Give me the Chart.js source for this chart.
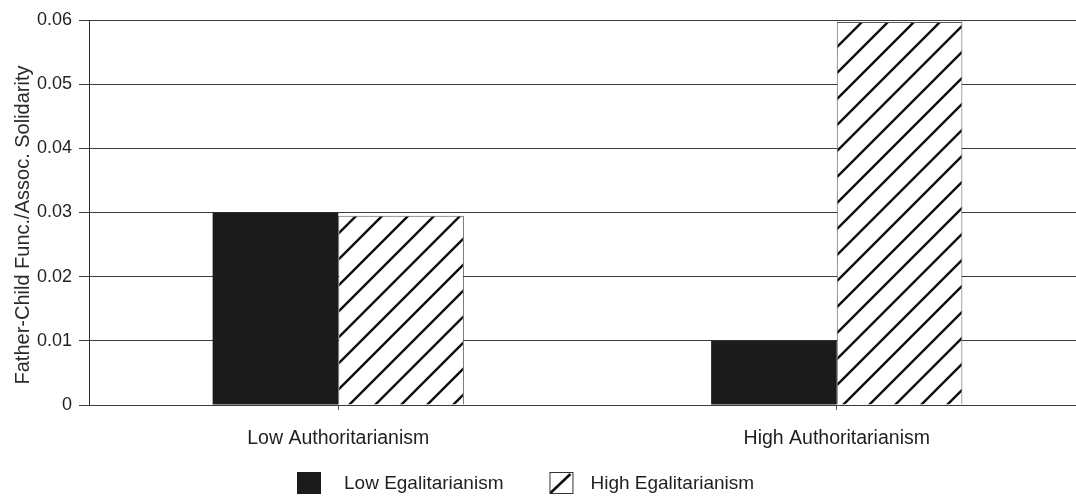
<!DOCTYPE html>
<html>
<head>
<meta charset="utf-8">
<title>Father-Child Functional/Associational Solidarity</title>
<script src="https://cdn.jsdelivr.net/npm/chart.js@4/dist/chart.umd.min.js"></script>
<style>
  html, body { margin: 0; padding: 0; background: #ffffff; overflow: hidden; }
  #wrap { width: 1076px; height: 497px; overflow: hidden; }
  canvas { display: block; }
</style>
</head>
<body>
<div id="wrap"><canvas id="chart" width="1086" height="497" style="width:1086px;height:497px"></canvas></div>
<script>
// Categories and series
const categories = ['Low Authoritarianism', 'High Authoritarianism'];
const seriesNames = ['Low Egalitarianism', 'High Egalitarianism'];
const lowEgalitarianism = [0.0300, 0.0100];
const highEgalitarianism = [0.0295, 0.0597];
const yTicks = [0, 0.01, 0.02, 0.03, 0.04, 0.05, 0.06];
const yAxisTitle = 'Father-Child Func./Assoc. Solidarity';

const FONT = '"Liberation Sans", Arial, Helvetica, sans-serif';
const TEXT = '#1f1f1f';

// Diagonal "/" hatching on white (square tile, 45 degrees, seamless)
function makeHatch(size, lineWidth) {
  const c = document.createElement('canvas');
  c.width = size; c.height = size;
  const g = c.getContext('2d');
  g.fillStyle = '#ffffff';
  g.fillRect(0, 0, size, size);
  g.strokeStyle = '#0d0d0d';
  g.lineWidth = lineWidth;
  g.lineCap = 'square';
  g.beginPath();
  g.moveTo(0, size); g.lineTo(size, 0);
  g.moveTo(-size / 2, size / 2); g.lineTo(size / 2, -size / 2);
  g.moveTo(size / 2, size * 1.5); g.lineTo(size * 1.5, size / 2);
  g.stroke();
  return c;
}

const ctx = document.getElementById('chart').getContext('2d');
const hatch = ctx.createPattern(makeHatch(26, 2.4), 'repeat');

// Rotated axis title and the legend under the plot
const annotationsPlugin = {
  id: 'figureText',
  afterDraw(chart, args, opts) {
    const c = chart.ctx;
    c.save();
    // axis title
    c.font = opts.titleFont;
    c.fillStyle = '#2a2a2a';
    c.textAlign = 'center';
    c.textBaseline = 'middle';
    c.translate(opts.titleX, opts.titleY);
    c.rotate(-Math.PI / 2);
    c.fillText(yAxisTitle, 0, 0);
    c.restore();

    // legend
    c.save();
    const y = opts.legendY;
    let x = opts.legendX;
    c.font = opts.legendFont;
    c.textBaseline = 'middle';
    c.textAlign = 'left';
    chart.data.datasets.forEach((ds, i) => {
      const bw = 24, bh = 22;
      const top = y - bh / 2;
      if (i === 0) {
        c.fillStyle = '#1b1b1b';
        c.fillRect(x, top, bw, bh);
      } else {
        c.strokeStyle = '#333333';
        c.lineWidth = 1;
        c.strokeRect(x + 0.5, top + 0.5, bw - 1, bh - 1);
        c.lineWidth = 2.6;
        c.strokeStyle = '#111111';
        c.beginPath();
        c.moveTo(x + 1, top + bh - 1);
        c.lineTo(x + bw - 3, top + 2);
        c.stroke();
      }
      const gap = opts.textGaps[i];
      c.fillStyle = TEXT;
      c.fillText(ds.label, x + bw + gap, y + 1);
      x += bw + gap + c.measureText(ds.label).width + opts.itemGap;
    });
    c.restore();
  }
};

new Chart(ctx, {
  type: 'bar',
  data: {
    labels: categories,
    datasets: [
      {
        label: seriesNames[0],
        data: lowEgalitarianism,
        backgroundColor: '#1b1b1b',
        borderWidth: 0
      },
      {
        label: seriesNames[1],
        data: highEgalitarianism,
        backgroundColor: hatch,
        borderColor: '#555555',
        borderWidth: 1,
        borderSkipped: 'bottom'
      }
    ]
  },
  options: {
    responsive: false,
    animation: false,
    events: [],
    layout: { padding: { left: 0, top: 20, right: 0, bottom: 0 } },
    datasets: {
      bar: { categoryPercentage: 0.504, barPercentage: 1.0 }
    },
    plugins: {
      legend: { display: false },
      tooltip: { enabled: false },
      figureText: {
        titleFont: '20px ' + FONT,
        titleX: 23,
        titleY: 225,
        legendFont: '19px ' + FONT,
        legendX: 297,
        legendY: 483,
        textGaps: [23, 17],
        itemGap: 46
      }
    },
    scales: {
      x: {
        offset: true,
        grid: {
          offset: false,
          drawOnChartArea: false,
          drawTicks: true,
          tickLength: 5,
          color: '#555555'
        },
        border: { display: true, color: '#3a3a3a' },
        ticks: {
          color: TEXT,
          padding: 17,
          maxRotation: 0,
          font: { family: FONT, size: 19.5 }
        },
        afterFit(scale) { scale.height = 92; }
      },
      y: {
        min: 0,
        max: 0.06,
        afterBuildTicks(scale) {
          scale.ticks = yTicks.map(v => ({ value: v }));
        },
        grid: {
          color: '#3c3c3c',
          lineWidth: 1,
          tickLength: 10,
          drawTicks: true
        },
        border: { display: true, color: '#2e2e2e', width: 1 },
        ticks: {
          color: TEXT,
          padding: 7,
          font: { family: FONT, size: 18 },
          callback: v => (v === 0 ? '0' : Number(v).toFixed(2))
        },
        title: { display: false },
        afterFit(scale) { scale.width = 89; }
      }
    }
  },
  plugins: [annotationsPlugin]
});
</script>
</body>
</html>
